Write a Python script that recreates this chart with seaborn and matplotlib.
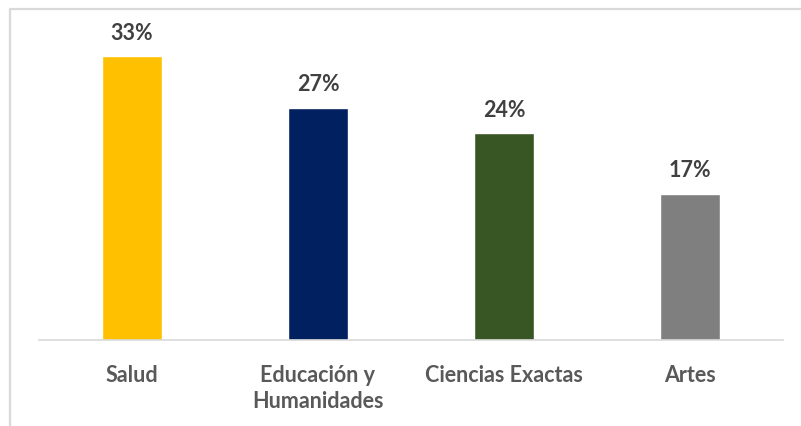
import matplotlib
matplotlib.use("Agg")
import matplotlib.pyplot as plt
from matplotlib.lines import Line2D
import seaborn as sns
import pandas as pd

# ── data ─────────────────────────────────────────────────────────────────────
categories = ["Salud", "Educación y\nHumanidades", "Ciencias Exactas", "Artes"]
shares = [33, 27, 24, 17]          # percent
bar_colors = ["#FFC000", "#002060", "#375623", "#7F7F7F"]

df = pd.DataFrame({"area": categories, "pct": shares})

sns.set_theme(style="white")
plt.rcParams["font.family"] = ["Lato", "DejaVu Sans"]

W, H = 801, 427
fig = plt.figure(figsize=(W / 100, H / 100), dpi=100)
ax = fig.add_axes([39 / W, (H - 341) / H, (783 - 39) / W, (341 - 20) / H])

sns.barplot(data=df, x="area", y="pct", hue="area", palette=bar_colors,
            width=0.32, legend=False, saturation=1, ax=ax)

ax.set_ylim(0, 37.3)
ax.set_xlim(-0.5, len(categories) - 0.5)
ax.set_xlabel("")
ax.set_ylabel("")
ax.set_yticks([])

for i, v in enumerate(shares):
    ax.text(i, v + 1.55, f"{v}%", ha="center", va="bottom",
            fontsize=15.5, fontweight="bold", color="#404040")

ax.tick_params(axis="x", length=0, pad=17, labelsize=15.5, labelcolor="#595959")
for lbl in ax.get_xticklabels():
    lbl.set_fontweight("bold")
    lbl.set_linespacing(1.3)

for side in ["top", "right", "left"]:
    ax.spines[side].set_visible(False)
ax.spines["bottom"].set_color("#D9D9D9")
ax.spines["bottom"].set_linewidth(1.2)

# chart-area frame (cut by the image edge on the right and bottom)
fig.add_artist(Line2D([10 / W, 1], [1 - 10 / H, 1 - 10 / H],
                      transform=fig.transFigure, color="#D9D9D9", lw=1.6))
fig.add_artist(Line2D([10 / W, 10 / W], [0, 1 - 10 / H],
                      transform=fig.transFigure, color="#D9D9D9", lw=1.6))

fig.savefig("out.png", dpi=100)
plt.close(fig)
